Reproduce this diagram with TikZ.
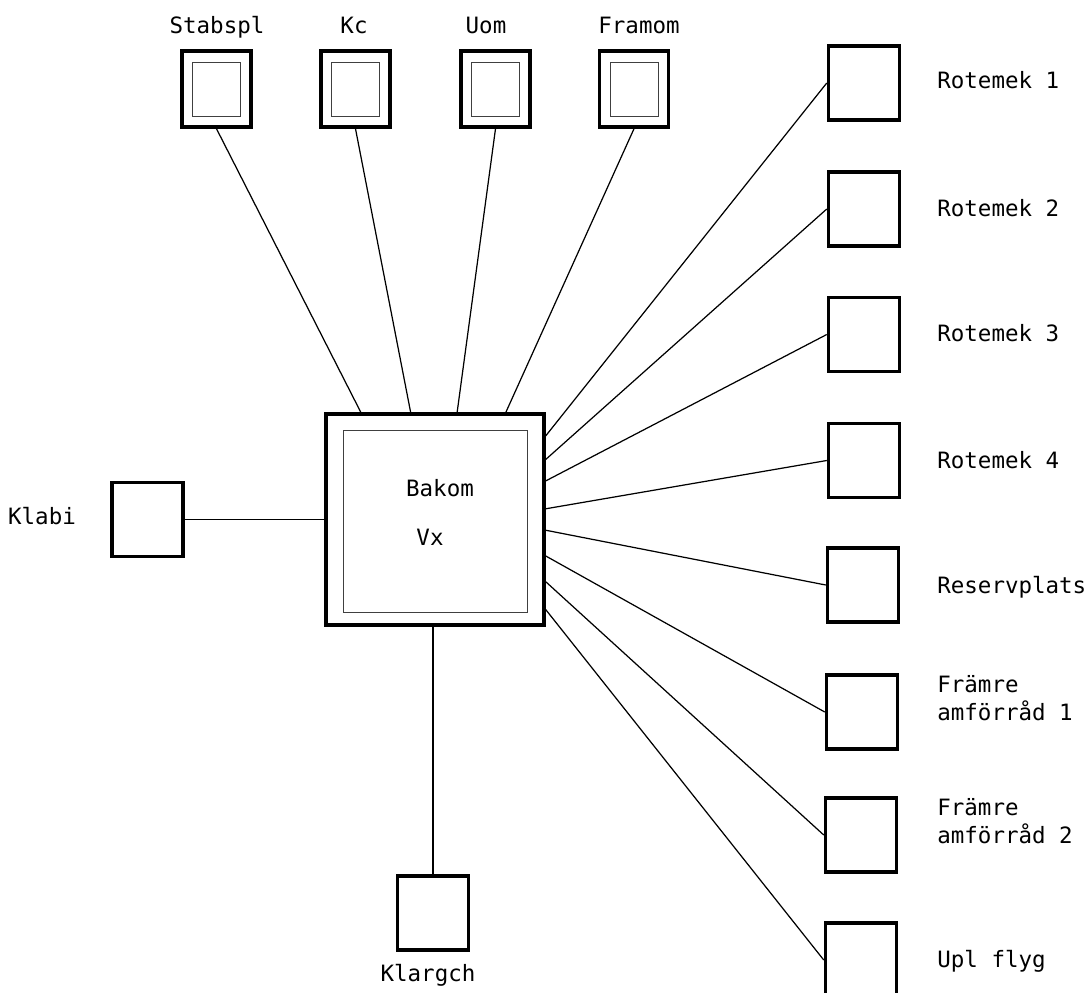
\documentclass[tikz,border=0pt]{standalone}
\usepackage{fontspec}
\setmainfont{DejaVu Sans Mono}
\usetikzlibrary{calc}

\tikzset{
    enhet/.style={draw, line width=2pt, minimum width=1.42cm, minimum height=1.48cm, inner sep=0pt},
    dubbel/.style={draw, line width=2pt, minimum width=1.38cm, minimum height=1.52cm, inner sep=0pt},
    innerruta/.style={draw, black!75, line width=0.55pt, minimum width=0.96cm, minimum height=1.08cm, inner sep=0pt},
    vaxel/.style={draw, line width=2pt, minimum width=4.36cm, minimum height=4.22cm, inner sep=0pt},
    ledning/.style={line width=0.7pt},
    etikett/.style={font=\fontsize{12.8}{16}\selectfont, inner sep=0pt},
}

\begin{document}
\begin{tikzpicture}[x=0.02cm, y=-0.02cm]
    \useasboundingbox (0,0) rectangle (1090,992);

    % Exchange in the middle
    \node[vaxel] (bakom) at (435,519.5) {};
    \node[draw, black!75, line width=0.55pt, minimum width=3.68cm, minimum height=3.64cm, inner sep=0pt] (bakom-in) at (435,521) {};
    \node[etikett, anchor=base] (bakom-txt) at (440,496) {Bakom};
    \node[etikett, anchor=base] (vx-txt) at (430,545) {Vx};

    % Staff posts along the top
    \node[dubbel] (stabspl) at (216.5,89) {};
    \node[innerruta] (stabspl-in) at (stabspl) {};
    \node[etikett, anchor=base] (stabspl-txt) at (217,33) {Stabspl};

    \node[dubbel] (kc) at (355.5,89) {};
    \node[innerruta] (kc-in) at (kc) {};
    \node[etikett, anchor=base] (kc-txt) at (354,33) {Kc};

    \node[dubbel] (uom) at (495.5,89) {};
    \node[innerruta] (uom-in) at (uom) {};
    \node[etikett, anchor=base] (uom-txt) at (486,33) {Uom};

    \node[dubbel] (framom) at (634,89) {};
    \node[innerruta] (framom-in) at (framom) {};
    \node[etikett, anchor=base] (framom-txt) at (639,33) {Framom};

    \draw[ledning] (stabspl.south) -- ($(bakom.north west)!0.165!(bakom.north east)$);
    \draw[ledning] (kc.south) -- ($(bakom.north west)!0.39!(bakom.north east)$);
    \draw[ledning] (uom.south) -- ($(bakom.north west)!0.60!(bakom.north east)$);
    \draw[ledning] (framom.south) -- ($(bakom.north west)!0.82!(bakom.north east)$);

    % Left and bottom
    \node[enhet] (klabi) at (147.5,519.5) {};
    \node[etikett, anchor=base] (klabi-txt) at (42,524) {Klabi};
    \draw[ledning] (klabi.east) -- (bakom.west);

    \node[enhet] (klargch) at (433,913) {};
    \node[etikett, anchor=base] (klargch-txt) at (428,981) {Klargch};
    \draw[ledning] (klargch.north) -- (klargch.north |- bakom.south);

    % Column on the right
    \node[enhet] (rotemek1) at (864,83) {};
    \node[etikett, anchor=base west] (rotemek1-txt) at (937,88) {Rotemek 1};

    \node[enhet] (rotemek2) at (864,209) {};
    \node[etikett, anchor=base west] (rotemek2-txt) at (937,216) {Rotemek 2};

    \node[enhet] (rotemek3) at (864,334.5) {};
    \node[etikett, anchor=base west] (rotemek3-txt) at (937,341) {Rotemek 3};

    \node[enhet] (rotemek4) at (864,460.5) {};
    \node[etikett, anchor=base west] (rotemek4-txt) at (937,468) {Rotemek 4};

    \node[enhet] (reserv) at (863,585) {};
    \node[etikett, anchor=base west] (reserv-txt) at (937,593) {Reservplats};

    \node[enhet] (framre1) at (862,712) {};
    \node[etikett, anchor=west, align=left] (framre1-txt) at (937,698) {Främre\\amförråd 1};

    \node[enhet] (framre2) at (861,835) {};
    \node[etikett, anchor=west, align=left] (framre2-txt) at (937,821) {Främre\\amförråd 2};

    \node[enhet] (uplflyg) at (861,960) {};
    \node[etikett, anchor=base west] (uplflyg-txt) at (937,967) {Upl flyg};

    \draw[ledning] ($(bakom.north east)!0.11!(bakom.south east)$) -- (rotemek1.west);
    \draw[ledning] ($(bakom.north east)!0.22!(bakom.south east)$) -- (rotemek2.west);
    \draw[ledning] ($(bakom.north east)!0.32!(bakom.south east)$) -- (rotemek3.west);
    \draw[ledning] ($(bakom.north east)!0.45!(bakom.south east)$) -- (rotemek4.west);
    \draw[ledning] ($(bakom.north east)!0.55!(bakom.south east)$) -- (reserv.west);
    \draw[ledning] ($(bakom.north east)!0.67!(bakom.south east)$) -- (framre1.west);
    \draw[ledning] ($(bakom.north east)!0.79!(bakom.south east)$) -- (framre2.west);
    \draw[ledning] ($(bakom.north east)!0.92!(bakom.south east)$) -- (uplflyg.west);
\end{tikzpicture}
\end{document}
